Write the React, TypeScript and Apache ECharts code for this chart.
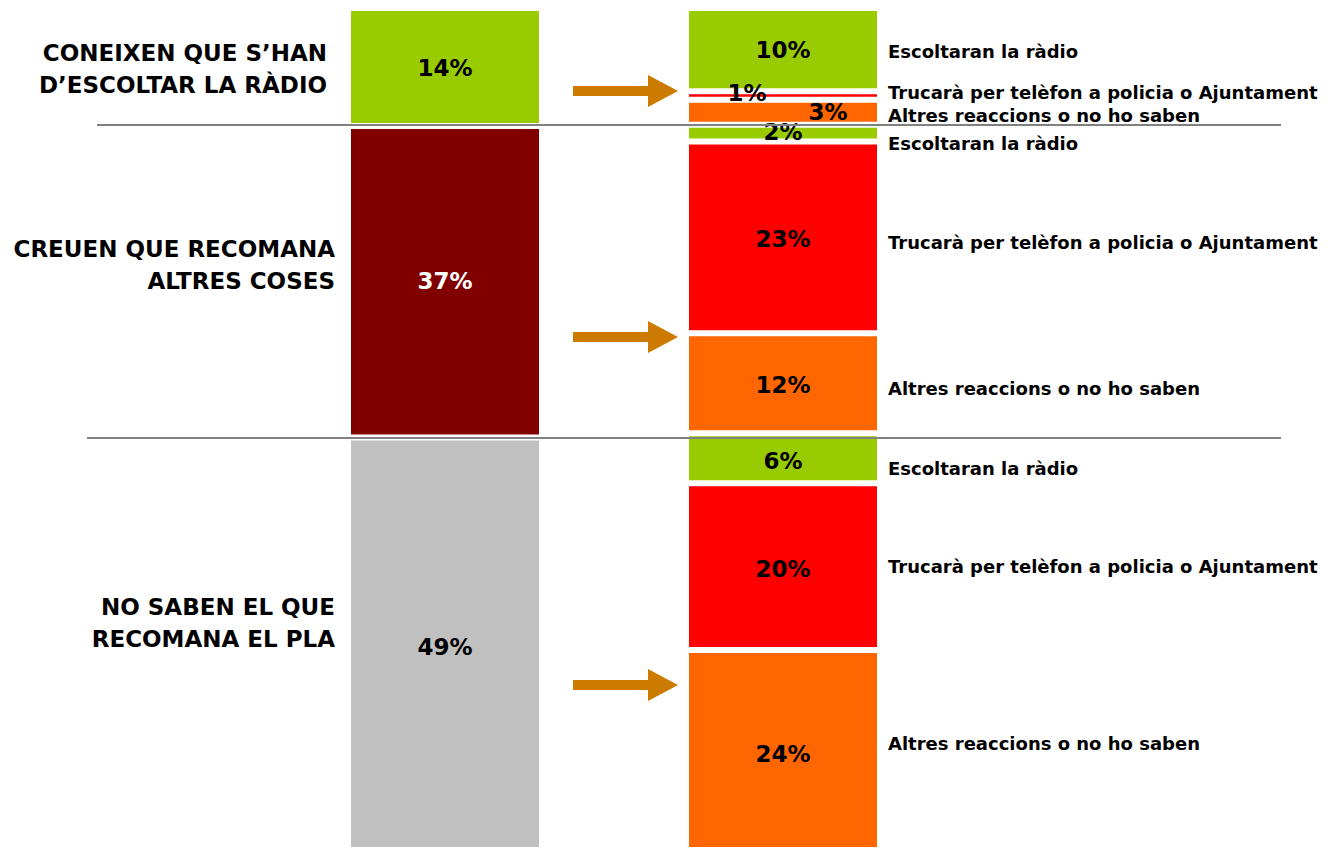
import React, { useEffect, useRef } from "react";
import * as echarts from "echarts";

// ---- data ----
const groupLabels = [
  "CONEIXEN QUE S’HAN\nD’ESCOLTAR LA RÀDIO",
  "CREUEN QUE RECOMANA\nALTRES COSES",
  "NO SABEN EL QUE\nRECOMANA EL PLA",
];
const groupShares = [14, 37, 49];
const reactionLabels = [
  "Escoltaran la ràdio",
  "Trucarà per telèfon a policia o Ajuntament",
  "Altres reaccions o no ho saben",
];
const knowRadio = [10, 1, 3];
const otherThings = [2, 23, 12];
const dontKnow = [6, 20, 24];
const reactionGroups = [knowRadio, otherThings, dontKnow];

// ---- styles ----
const FONT = "DejaVu Sans";
const groupColors = ["#99CC00", "#800000", "#C0C0C0"];
const groupTextColors = ["#000", "#fff", "#000"];
const reactionColors = ["#99CC00", "#FF0000", "#FF6600"];
const groupValueOffsets = [[0, 1], [0, -1], [0, 3]];
const groupNameOffsets = [[-8, 2], [0, -17], [0, -21]];
const reactionValueOffsets = [
  [0, 0], [-36, -3], [45, 0],
  [0, -1], [0, 2], [0, 2],
  [0, 3], [0, 2], [0, 4],
];
const reactionNameOffsets = [
  [0, 2], [0, -3], [0, 3],
  [0, 10], [0, 5], [0, 5],
  [0, 10], [0, 0], [0, -6],
];
const ARROW = "#CC7A00";

export default function App() {
  const ref = useRef<HTMLDivElement>(null);
  useEffect(() => {
    document.body.style.margin = "0";
    const chart = echarts.init(ref.current!, null, { renderer: "svg" });
    const rightTotal = reactionGroups.flat().reduce((a, b) => a + b, 0);
    const leftTotal = groupShares.reduce((a, b) => a + b, 0);

    const top = 8;
    const h = 846;
    const grids = [
      { left: 348, top, width: 194, height: h }, // left bar
      { left: 686, top, width: 194, height: h }, // right bar
      { left: 0, top, width: 340, height: h }, // left names
      { left: 883, top, width: 440, height: h }, // right names
    ];
    const maxes = [leftTotal, rightTotal, leftTotal, rightTotal];
    const xAxis = grids.map((_, i) => ({
      type: "category",
      gridIndex: i,
      data: ["x"],
      show: false,
    }));
    const yAxis = grids.map((_, i) => ({
      type: "value",
      gridIndex: i,
      min: 0,
      max: maxes[i],
      inverse: true,
      show: false,
    }));

    const series: any[] = [];
    groupShares.forEach((v, i) => {
      series.push({
        type: "bar",
        name: groupLabels[i],
        xAxisIndex: 0,
        yAxisIndex: 0,
        stack: "left",
        barWidth: "100%",
        data: [v],
        itemStyle: { color: groupColors[i], borderColor: "#fff", borderWidth: 3 },
        label: {
          show: true,
          position: "inside",
          formatter: "{c}%",
          color: groupTextColors[i],
          fontFamily: FONT,
          fontWeight: "bold",
          fontSize: 23,
          offset: groupValueOffsets[i],
        },
      });
      series.push({
        type: "bar",
        xAxisIndex: 2,
        yAxisIndex: 2,
        stack: "leftNames",
        barWidth: "100%",
        data: [v],
        silent: true,
        itemStyle: { color: "transparent" },
        label: {
          show: true,
          position: "insideRight",
          distance: 5,
          formatter: () => groupLabels[i],
          color: "#000",
          fontFamily: FONT,
          fontWeight: "bold",
          fontSize: 23,
          lineHeight: 32,
          align: "right",
          offset: groupNameOffsets[i],
        },
      });
    });

    let k = 0;
    reactionGroups.forEach((grp) => {
      grp.forEach((v, r) => {
        const idx = k++;
        series.push({
          type: "bar",
          name: reactionLabels[r],
          xAxisIndex: 1,
          yAxisIndex: 1,
          stack: "right",
          barWidth: "100%",
          data: [v],
          itemStyle: { color: reactionColors[r], borderColor: "#fff", borderWidth: 3 },
          label: {
            show: true,
            position: "inside",
            formatter: "{c}%",
            color: "#000",
            fontFamily: FONT,
            fontWeight: "bold",
            fontSize: 23,
            offset: reactionValueOffsets[idx],
          },
        });
        series.push({
          type: "bar",
          xAxisIndex: 3,
          yAxisIndex: 3,
          stack: "rightNames",
          barWidth: "100%",
          data: [v],
          silent: true,
          itemStyle: { color: "transparent" },
          label: {
            show: true,
            position: "insideLeft",
            distance: 5,
            formatter: () => reactionLabels[r],
            color: "#000",
            fontFamily: FONT,
            fontWeight: "bold",
            fontSize: 18,
            offset: reactionNameOffsets[idx],
          },
        });
      });
    });

    const arrowYs = [91, 337, 685];
    const arrows = arrowYs.map((c) => ({
      type: "polygon",
      z: 100,
      shape: {
        points: [
          [573, c - 5], [648, c - 5], [648, c - 16], [678, c],
          [648, c + 16], [648, c + 5], [573, c + 5],
        ],
      },
      style: { fill: ARROW },
    }));
    const lines = [
      { x1: 97, y: 125 },
      { x1: 87, y: 438 },
    ].map((l) => ({
      type: "line",
      z: 100,
      shape: { x1: l.x1, y1: l.y, x2: 1281, y2: l.y },
      style: { stroke: "#808080", lineWidth: 2 },
    }));

    chart.setOption({
      animation: false,
      backgroundColor: "#fff",
      grid: grids,
      xAxis,
      yAxis,
      series,
      graphic: [...lines, ...arrows],
    });
    return () => chart.dispose();
  }, []);
  return <div ref={ref} style={{ width: 1329, height: 850 }} />;
}
